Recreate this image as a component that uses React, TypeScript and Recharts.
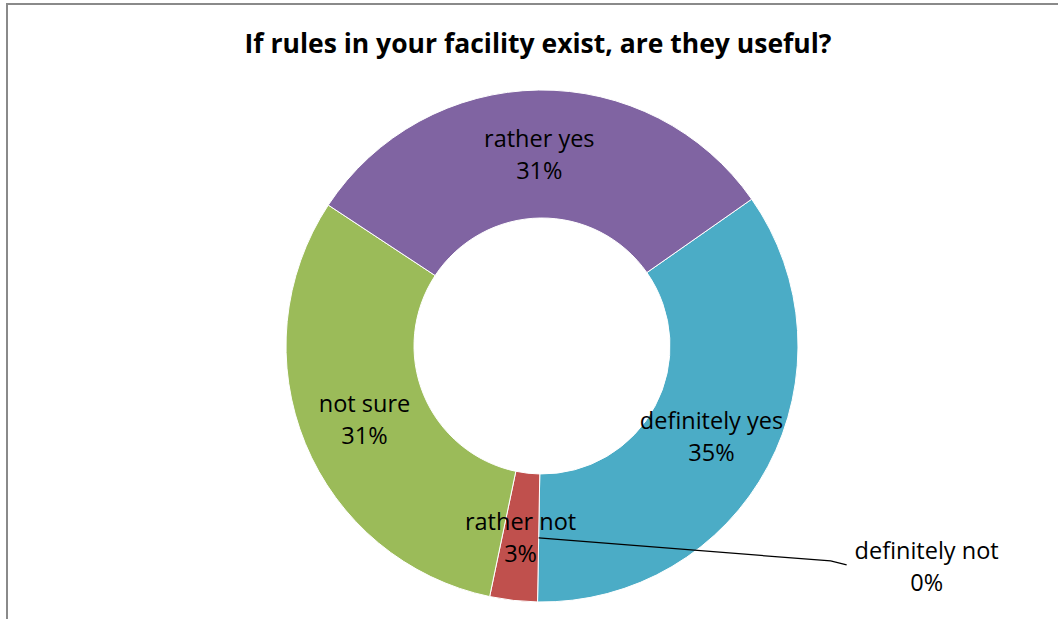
import { PieChart, Pie, Cell } from 'recharts';

const categories = ['definitely yes', 'definitely not', 'rather not', 'not sure', 'rather yes'];
const shares = [35, 0, 3, 31, 31];
const colors = ['#4BACC6', '#F79646', '#C0504D', '#9BBB59', '#8064A2'];

const chartData = categories.map((name, i) => ({ name, value: shares[i] }));

const RADIAN = Math.PI / 180;
const FONT = '"Open Sans", Lato, sans-serif';
const LABEL_SIZE = 23.5;

// Excel-style data labels: centred in the ring; the empty slice gets a moved label with a leader line
function renderLabel(props: any) {
  const { cx, cy, midAngle, innerRadius, outerRadius, name, value } = props;
  const r = (innerRadius + outerRadius) / 2;
  const x = cx + r * Math.cos(-midAngle * RADIAN);
  const y = cy + r * Math.sin(-midAngle * RADIAN);
  if (value === 0) {
    const lx = x + 388;
    const ly = y + 28;
    return (
      <g>
        <polyline points={`${x},${y} ${lx - 96},${ly - 5} ${lx - 80},${ly - 1}`} fill="none" stroke="#000" strokeWidth={1.3} />
        <text x={lx} y={ly - 16} textAnchor="middle" dominantBaseline="central" fontFamily={FONT} fontSize={LABEL_SIZE} fill="#000">{name}</text>
        <text x={lx} y={ly + 16} textAnchor="middle" dominantBaseline="central" fontFamily={FONT} fontSize={LABEL_SIZE} fill="#000">{`${value}%`}</text>
      </g>
    );
  }
  return (
    <g>
      <text x={x} y={y - 16} textAnchor="middle" dominantBaseline="central" fontFamily={FONT} fontSize={LABEL_SIZE} fill="#000">{name}</text>
      <text x={x} y={y + 16} textAnchor="middle" dominantBaseline="central" fontFamily={FONT} fontSize={LABEL_SIZE} fill="#000">{`${value}%`}</text>
    </g>
  );
}

export default function App() {
  return (
    <div style={{ position: 'absolute', left: 0, top: 0, width: 1058, height: 619, overflow: 'hidden', background: '#fff' }}>
      <div style={{ position: 'absolute', left: 6, top: 3, width: 1200, height: 800, border: '2px solid #8a8a8a', boxSizing: 'border-box' }} />
      <div style={{ position: 'absolute', left: 0, top: 28, width: 1076, textAlign: 'center', fontFamily: FONT, fontWeight: 700, fontSize: 26.5, lineHeight: '30px', color: '#000' }}>
        If rules in your facility exist, are they useful?
      </div>
      <div style={{ position: 'absolute', left: 0, top: 0 }}>
        <PieChart width={1058} height={619} margin={{ top: 0, right: 0, bottom: 0, left: 0 }}>
          <Pie
            data={chartData}
            dataKey="value"
            nameKey="name"
            cx={542}
            cy={346}
            innerRadius={128}
            outerRadius={256}
            startAngle={35}
            endAngle={-325}
            stroke="#fff"
            strokeWidth={1}
            label={renderLabel}
            labelLine={false}
            isAnimationActive={false}
          >
            {chartData.map((d, i) => (
              <Cell key={d.name} fill={colors[i]} />
            ))}
          </Pie>
        </PieChart>
      </div>
    </div>
  );
}
